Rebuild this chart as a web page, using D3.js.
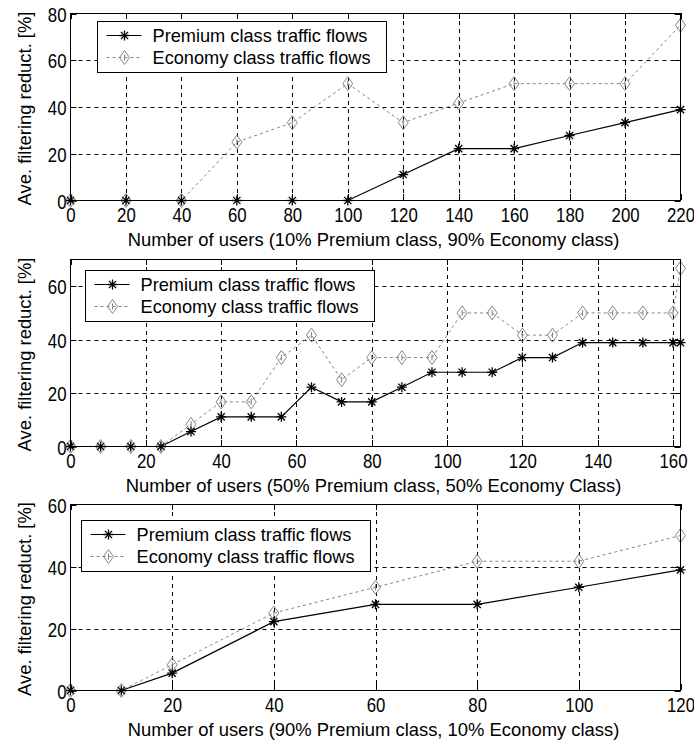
<!DOCTYPE html>
<html>
<head>
<meta charset="utf-8">
<script src="https://cdn.jsdelivr.net/npm/d3@7"></script>
<style>
  body { margin: 0; background: #fff; }
  svg { display: block; font-family: "Liberation Sans", Arial, sans-serif; }
</style>
</head>
<body>
<div id="chart"></div>
<script>
// panel A: 10% premium / 90% economy
const usersA = [0, 20, 40, 60, 80, 100, 120, 140, 160, 180, 200, 220];
const premiumA = [0, 0, 0, 0, 0, 0, 11.1, 22.2, 22.2, 27.8, 33.3, 38.9];
const economyA = [0, 0, 0, 25, 33.3, 50, 33.3, 41.7, 50, 50, 50, 75];
const xTicksA = [0, 20, 40, 60, 80, 100, 120, 140, 160, 180, 200, 220];
const yTicksA = [0, 20, 40, 60, 80];

// panel B: 50% / 50%
const usersB = [0, 8, 16, 24, 32, 40, 48, 56, 64, 72, 80, 88, 96, 104, 112, 120, 128, 136, 144, 152, 160, 162];
const premiumB = [0, 0, 0, 0, 5.6, 11.1, 11.1, 11.1, 22.2, 16.7, 16.7, 22.2, 27.8, 27.8, 27.8, 33.3, 33.3, 38.9, 38.9, 38.9, 38.9, 38.9];
const economyB = [0, 0, 0, 0, 8.3, 16.7, 16.7, 33.3, 41.7, 25, 33.3, 33.3, 33.3, 50, 50, 41.7, 41.7, 50, 50, 50, 50, 66.7];
const xTicksB = [0, 20, 40, 60, 80, 100, 120, 140, 160];
const yTicksB = [0, 20, 40, 60];

// panel C: 90% / 10%
const usersC = [0, 10, 20, 40, 60, 80, 100, 120];
const premiumC = [0, 0, 5.6, 22.2, 27.8, 27.8, 33.3, 38.9];
const economyC = [0, 0, 8.3, 25, 33.3, 41.7, 41.7, 50];
const xTicksC = [0, 20, 40, 60, 80, 100, 120];
const yTicksC = [0, 20, 40, 60];

const seriesNames = ["Premium class traffic flows", "Economy class traffic flows"];
const xTitles = [
  "Number of users (10% Premium class, 90% Economy class)",
  "Number of users (50% Premium class, 50% Economy Class)",
  "Number of users (90% Premium class, 10% Economy class)"
];
const yTitle = "Ave. filtering reduct. [%]";

const paneli = [
  { users: usersA, prem: premiumA, eco: economyA, xt: xTicksA, yt: yTicksA, xMax: 220, yMax: 80,
    top: 13, bottom: 200, leg: [97, 21] },
  { users: usersB, prem: premiumB, eco: economyB, xt: xTicksB, yt: yTicksB, xMax: 162, yMax: 70,
    top: 259, bottom: 446, leg: [85, 270] },
  { users: usersC, prem: premiumC, eco: economyC, xt: xTicksC, yt: yTicksC, xMax: 120, yMax: 60,
    top: 504, bottom: 690, leg: [81, 520] }
];

const sirina = 694, visina = 747;
const lijevo = 70.5, desno = 680.5;
const sivo = "#858585";

const svg = d3.select("#chart").append("svg")
  .attr("width", sirina)
  .attr("height", visina);

function zvjezdica(g, x, y) {
  const r = 5, d = 3.6;
  g.append("path")
    .attr("d", `M${x - r},${y}H${x + r}M${x},${y - r}V${y + r}` +
      `M${x - d},${y - d}L${x + d},${y + d}M${x - d},${y + d}L${x + d},${y - d}`)
    .attr("stroke", "#000").attr("stroke-width", 1.3).attr("fill", "none");
}

function romb(g, x, y) {
  g.append("path")
    .attr("d", `M${x},${y - 7}L${x + 5},${y}L${x},${y + 7}L${x - 5},${y}Z`)
    .attr("stroke", sivo).attr("stroke-width", 1).attr("fill", "none");
  g.append("path")
    .attr("d", `M${x},${y - 3}V${y + 3}`)
    .attr("stroke", sivo).attr("stroke-width", 1);
}

paneli.forEach((p, i) => {
  const x = d3.scaleLinear().domain([0, p.xMax]).range([lijevo, desno]);
  const y = d3.scaleLinear().domain([0, p.yMax]).range([p.bottom + 0.5, p.top + 0.5]);
  const g = svg.append("g");

  // grid
  const xGrid = p.xt.filter(v => v > 0 && v < p.xMax);
  const yGrid = p.yt.filter(v => v > 0 && v < p.yMax);
  g.selectAll(".vg").data(xGrid).enter().append("line")
    .attr("x1", d => Math.round(x(d)) + 0.5).attr("x2", d => Math.round(x(d)) + 0.5)
    .attr("y1", p.top).attr("y2", p.bottom)
    .attr("stroke", "#000").attr("stroke-dasharray", "4,4");
  g.selectAll(".hg").data(yGrid).enter().append("line")
    .attr("x1", lijevo).attr("x2", desno)
    .attr("y1", d => Math.round(y(d)) + 0.5).attr("y2", d => Math.round(y(d)) + 0.5)
    .attr("stroke", "#000").attr("stroke-dasharray", "4,4");

  // inner ticks on all sides
  const tl = 6;
  p.xt.forEach(v => {
    const xx = Math.round(x(v)) + 0.5;
    g.append("path").attr("d", `M${xx},${p.bottom}v${-tl}M${xx},${p.top}v${tl}`)
      .attr("stroke", "#000");
  });
  p.yt.forEach(v => {
    const yy = Math.round(y(v)) + 0.5;
    g.append("path").attr("d", `M${lijevo},${yy}h${tl}M${desno},${yy}h${-tl}`)
      .attr("stroke", "#000");
  });

  // axis labels via d3 axes
  const xAxis = g.append("g")
    .attr("transform", `translate(0,${p.bottom})`)
    .call(d3.axisBottom(x).tickValues(p.xt).tickSize(0).tickFormat(d3.format("d")));
  xAxis.select(".domain").remove();
  xAxis.selectAll("text")
    .attr("y", 0).attr("dy", null)
    .attr("transform", "translate(0,21.5) scale(0.8,1)")
    .style("font-size", "21px").attr("fill", "#000");

  const yAxis = g.append("g")
    .attr("transform", `translate(${lijevo},0)`)
    .call(d3.axisLeft(y).tickValues(p.yt).tickSize(0).tickFormat(d3.format("d")));
  yAxis.select(".domain").remove();
  yAxis.selectAll("text")
    .attr("x", 0).attr("dy", null)
    .attr("transform", "translate(-4,7.5) scale(0.8,1)")
    .style("font-size", "21px").attr("fill", "#000");

  // lines
  const linija = d3.line().x((d, j) => x(p.users[j])).y(d => y(d));
  g.append("path").datum(p.eco).attr("d", linija)
    .attr("fill", "none").attr("stroke", sivo).attr("stroke-dasharray", "3,3");
  g.append("path").datum(p.prem).attr("d", linija)
    .attr("fill", "none").attr("stroke", "#000").attr("stroke-width", 1.2);
  p.eco.forEach((v, j) => romb(g, x(p.users[j]), y(v)));
  p.prem.forEach((v, j) => zvjezdica(g, x(p.users[j]), y(v)));

  // box
  g.append("rect")
    .attr("x", lijevo).attr("y", p.top + 0.5)
    .attr("width", desno - lijevo).attr("height", p.bottom - p.top)
    .attr("fill", "none").attr("stroke", "#000");

  // legend
  const [lx, ly] = p.leg;
  const leg = g.append("g").attr("transform", `translate(${lx + 0.5},${ly + 0.5})`);
  leg.append("rect").attr("width", 289).attr("height", 51)
    .attr("fill", "#fff").attr("stroke", "#000");
  [0, 1].forEach(k => {
    const yy = 14 + k * 22;
    leg.append("line").attr("x1", 9).attr("x2", 44).attr("y1", yy).attr("y2", yy)
      .attr("stroke", k ? sivo : "#000")
      .attr("stroke-dasharray", k ? "3,3" : null);
    if (k) romb(leg, 27, yy); else zvjezdica(leg, 27, yy);
    leg.append("text").attr("x", 55).attr("y", yy + 6.5)
      .style("font-size", "18.2px").text(seriesNames[k]);
  });

  // titles
  g.append("text")
    .attr("x", (lijevo + desno) / 2 - 2).attr("y", p.bottom + 46)
    .attr("text-anchor", "middle").style("font-size", "18.4px")
    .text(xTitles[i]);
  g.append("text")
    .attr("transform", `translate(31,${(p.top + p.bottom) / 2 + 2}) rotate(-90)`)
    .attr("text-anchor", "middle").style("font-size", "18.4px")
    .text(yTitle);
});
</script>
</body>
</html>
